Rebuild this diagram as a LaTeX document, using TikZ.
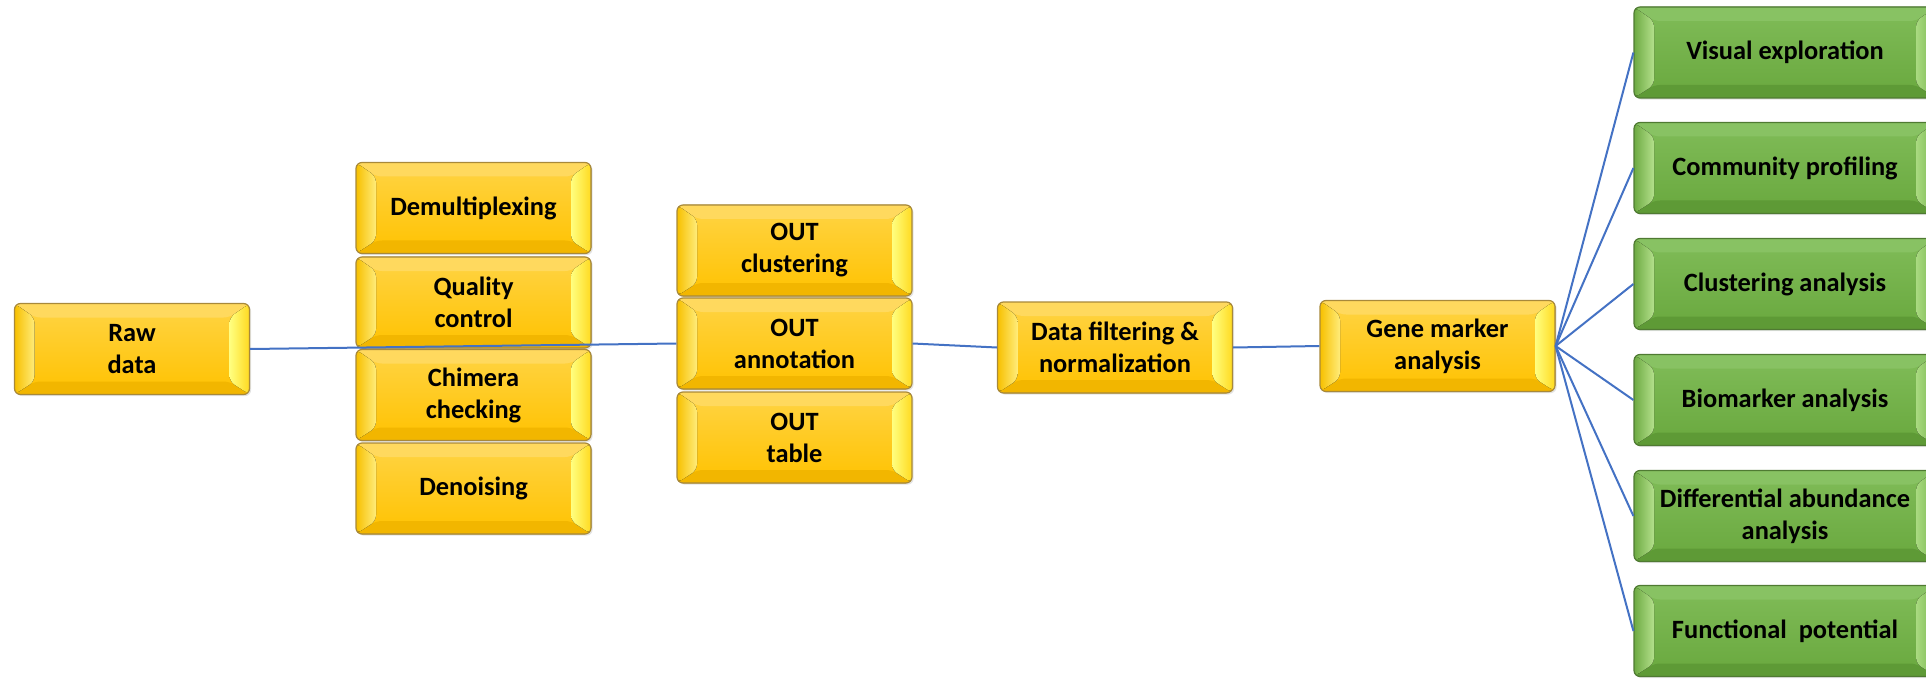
\documentclass[tikz,border=0pt]{standalone}
\usepackage{fontspec}
\setmainfont{Carlito}
\usetikzlibrary{calc,shadows}
\definecolor{conn}{HTML}{4472C4}
\definecolor{yTop}{HTML}{FFD445}
\definecolor{yBot}{HTML}{FFC200}
\definecolor{yTF}{HTML}{FFD95E}
\definecolor{yBF}{HTML}{F2B600}
\definecolor{yLO}{HTML}{F7C000}
\definecolor{yLI}{HTML}{FFEC7A}
\definecolor{yRI}{HTML}{FFFF80}
\definecolor{yRO}{HTML}{FFDA20}
\definecolor{yEdge}{HTML}{A8893A}
\definecolor{gTop}{HTML}{80BC58}
\definecolor{gBot}{HTML}{69A83E}
\definecolor{gTF}{HTML}{88C263}
\definecolor{gBF}{HTML}{5E9A36}
\definecolor{gLO}{HTML}{6DAA42}
\definecolor{gLI}{HTML}{B4E08C}
\definecolor{gRI}{HTML}{A9DA80}
\definecolor{gRO}{HTML}{78B44E}
\definecolor{gEdge}{HTML}{4F7A32}
\newcommand{\bevelfaces}[8]{%
  \coordinate (pNW) at (path picture bounding box.north west);
  \coordinate (pNE) at (path picture bounding box.north east);
  \coordinate (pSW) at (path picture bounding box.south west);
  \coordinate (pSE) at (path picture bounding box.south east);
  \fill[top color=#1,bottom color=#2] (pSW) rectangle (pNE);
  \fill[#3] (pNW) -- (pNE) -- ($(pNE)+(-10pt,-7pt)$) -- ($(pNW)+(10pt,-7pt)$) -- cycle;
  \fill[#4] (pSW) -- (pSE) -- ($(pSE)+(-10pt,6.5pt)$) -- ($(pSW)+(10pt,6.5pt)$) -- cycle;
  \fill[left color=#5,right color=#6] (pNW) -- ($(pNW)+(10pt,-7pt)$) -- ($(pSW)+(10pt,6.5pt)$) -- (pSW) -- cycle;
  \fill[left color=#7,right color=#8] (pNE) -- ($(pNE)+(-10pt,-7pt)$) -- ($(pSE)+(-10pt,6.5pt)$) -- (pSE) -- cycle;
}
\tikzset{
  boxbase/.style={rectangle, rounded corners=3pt, line width=0.6pt, minimum height=45.5pt,
    inner sep=0pt, align=center, text=black,
    font=\fontsize{13.2pt}{16pt}\selectfont\bfseries,
    drop shadow={opacity=0.22, shadow xshift=0.8pt, shadow yshift=-0.8pt}},
  ybox/.style={boxbase, draw=yEdge, minimum width=117.5pt,
    path picture={\bevelfaces{yTop}{yBot}{yTF}{yBF}{yLO}{yLI}{yRI}{yRO}}},
  gbox/.style={boxbase, draw=gEdge, minimum width=151pt,
    path picture={\bevelfaces{gTop}{gBot}{gTF}{gBF}{gLO}{gLI}{gRI}{gRO}}},
  link/.style={draw=conn, line width=1pt}
}
\begin{document}
\begin{tikzpicture}[x=0.5pt,y=-0.5pt]
\useasboundingbox (0,0) rectangle (1926,679);
\begin{scope}
\clip (0,0) rectangle (1926,679);
\node[ybox] (raw) at (132,349) {Raw\\data};
\node[ybox] (demux) at (473.5,208) {Demultiplexing};
\node[ybox] (qc) at (473.5,302.5) {Quality\\control};
\node[ybox] (chim) at (473.5,395) {Chimera\\checking};
\node[ybox] (deno) at (473.5,488.5) {Denoising};
\node[ybox] (otuc) at (794.5,250.5) {OUT\\clustering};
\node[ybox] (otua) at (794.5,343.5) {OUT\\annotation};
\node[ybox] (otut) at (794.5,437.5) {OUT\\table};
\node[ybox] (filt) at (1115,347.5) {Data filtering \&\\normalization};
\node[ybox] (gene) at (1437.5,346) {Gene marker\\analysis};
\node[gbox] (vis) at (1785,52.5) {Visual exploration};
\node[gbox] (comm) at (1785,168) {Community profiling};
\node[gbox] (clus) at (1785,284) {Clustering analysis};
\node[gbox] (bio) at (1785,400) {Biomarker analysis};
\node[gbox] (diff) at (1785,516) {Differential abundance\\analysis};
\node[gbox] (func) at (1785,631) {Functional~~potential};
\draw[link] (raw.east) -- (otua.west);
\draw[link] (otua.east) -- (filt.west);
\draw[link] (filt.east) -- (gene.west);
\foreach \t in {vis,comm,clus,bio,diff,func}
  \draw[link] (gene.east) -- (\t.west);
\end{scope}
\end{tikzpicture}
\end{document}
